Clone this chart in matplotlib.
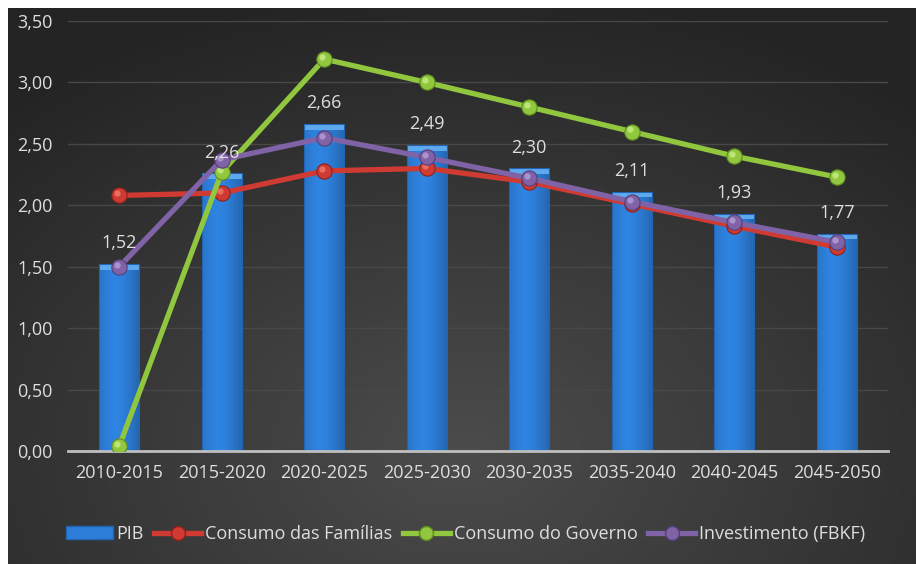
import numpy as np
import matplotlib
matplotlib.use("Agg")
import matplotlib.pyplot as plt
from matplotlib.patches import Patch
from matplotlib.lines import Line2D
from matplotlib.transforms import ScaledTranslation

plt.rcParams['font.family'] = ['Open Sans', 'DejaVu Sans']

# periodos e taxas medias (% a.a.)
periodos = ['2010-2015', '2015-2020', '2020-2025', '2025-2030',
            '2030-2035', '2035-2040', '2040-2045', '2045-2050']
pib = [1.52, 2.26, 2.66, 2.49, 2.30, 2.11, 1.93, 1.77]
consumo_familias = [2.08, 2.10, 2.28, 2.30, 2.19, 2.01, 1.83, 1.66]
consumo_governo = [0.04, 2.27, 3.19, 3.00, 2.80, 2.60, 2.40, 2.23]
investimento = [1.50, 2.37, 2.55, 2.39, 2.22, 2.03, 1.86, 1.70]

TXT = '#dedede'
FS = 13

fig = plt.figure(figsize=(9.16, 5.64), dpi=100)
fig.patch.set_facecolor('white')

# fundo escuro com degrade radial
bg = fig.add_axes([8 / 916, 0, 1 - 8 / 916, 1 - 8 / 564])
bg.set_axis_off()
yy, xx = np.mgrid[0:1:300j, 0:1:500j]
r = np.sqrt(((xx - 0.50) / 0.75) ** 2 + ((yy - 0.80) / 0.85) ** 2)
r = np.clip(r, 0, 1)
lo = np.array([0x24, 0x24, 0x24]) / 255
hi = np.array([0x4c, 0x4c, 0x4c]) / 255
img = hi[None, None, :] * (1 - r[..., None]) + lo[None, None, :] * r[..., None]
bg.imshow(img, aspect='auto', extent=[0, 1, 0, 1], origin='upper')
bg.set_xlim(0, 1)
bg.set_ylim(0, 1)

ax = fig.add_axes([68 / 916, 1 - 451 / 564, 820 / 916, 430 / 564])
ax.set_facecolor('none')
x = np.arange(len(periodos))

# barras do PIB com sombreamento horizontal suave
bars = ax.bar(x, pib, width=0.39, color='#2d7ed8', zorder=2)
grad = np.linspace(0, 1, 64)
shade = 1.05 - 0.25 * np.abs(grad - 0.4) ** 1.5 * 2
for b in bars:
    bx, by = b.get_x(), b.get_y()
    bw, bh = b.get_width(), b.get_height()
    cols = np.array([0x2d, 0x7e, 0xd8]) / 255
    g = np.clip(cols[None, None, :] * shade[None, :, None], 0, 1)
    im = ax.imshow(g, aspect='auto', extent=[bx, bx + bw, by, by + bh],
                   zorder=2.1)
    im.set_clip_path(b)
    # chanfro claro no topo
    ax.fill_between([bx, bx + bw], by + bh - 0.045, by + bh,
                    color='#5ea9ee', lw=0, zorder=2.2)
    b.set_facecolor('none')
    b.set_edgecolor('#2164b3')
    b.set_linewidth(0.8)
    b.set_zorder(2.3)

for xi, v in zip(x, pib):
    ax.annotate(f'{v:.2f}'.replace('.', ','), (xi, v), xytext=(0, 15),
                textcoords='offset points', ha='center', va='center',
                color=TXT, fontsize=FS, zorder=6)

series = [
    (consumo_familias, '#cf3b32', '#ef7a6e', '#8e211b'),
    (consumo_governo, '#91c73f', '#c9ec86', '#5e8a22'),
    (investimento, '#8063a6', '#b7a0d8', '#553f78'),
]
hl = ScaledTranslation(-1.5 / 72, 1.5 / 72, fig.dpi_scale_trans)
for i, (vals, c, light, dark) in enumerate(series):
    z = 3 + i
    ax.plot(x, vals, color=c, lw=3.8, zorder=z, solid_capstyle='round')
    ax.plot(x, vals, 'o', ms=11, mfc=c, mec=dark, mew=0.8, zorder=z + 0.1)
    ax.plot(x, vals, 'o', ms=4.5, mfc=light, mec='none', alpha=0.8,
            zorder=z + 0.2, transform=ax.transData + hl)

ax.set_xlim(-0.5, len(periodos) - 0.5)
ax.set_ylim(0, 3.5)
ax.set_yticks(np.arange(0, 3.51, 0.5))
ax.set_yticklabels([f'{t:.2f}'.replace('.', ',') for t in np.arange(0, 3.51, 0.5)])
ax.set_xticks(x)
ax.set_xticklabels(periodos)
ax.tick_params(length=0, colors=TXT, labelsize=FS)
ax.tick_params(axis='y', pad=11)
ax.tick_params(axis='x', pad=9)
ax.grid(axis='y', color='#484848', lw=1, zorder=0)
ax.set_axisbelow(True)
for s in ['top', 'right', 'left']:
    ax.spines[s].set_visible(False)
ax.spines['bottom'].set_color('#bfbfbf')
ax.spines['bottom'].set_linewidth(2)
ax.spines['bottom'].set_zorder(2.5)

handles = [
    Patch(facecolor='#2d7ed8', edgecolor='#2164b3'),
    Line2D([], [], color='#cf3b32', lw=3.8, marker='o', ms=10, mfc='#cf3b32', mec='#8e211b'),
    Line2D([], [], color='#91c73f', lw=3.8, marker='o', ms=10, mfc='#91c73f', mec='#5e8a22'),
    Line2D([], [], color='#8063a6', lw=3.8, marker='o', ms=10, mfc='#8063a6', mec='#553f78'),
]
labels = ['PIB', 'Consumo das Famílias', 'Consumo do Governo', 'Investimento (FBKF)']
leg = fig.legend(handles, labels, loc='center', bbox_to_anchor=(0.508, 0.053),
                 ncol=4, frameon=False, fontsize=FS, labelcolor=TXT,
                 handlelength=2.6, handletextpad=0.2, columnspacing=0.6,
                 handleheight=0.7)

fig.savefig('out.png', dpi=100, facecolor=fig.get_facecolor())
